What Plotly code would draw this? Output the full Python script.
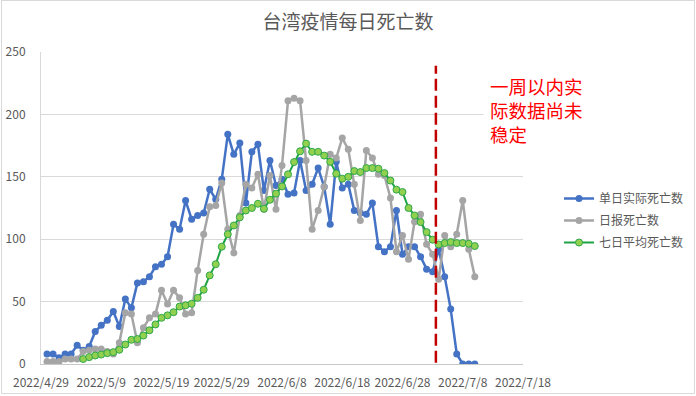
import pandas as pd
import plotly.graph_objects as go

dates = pd.date_range("2022-04-30", periods=72, freq="D")

actual = [8, 8, 5, 8, 8, 15, 11, 14, 26, 31, 35, 42, 30, 52, 45, 65, 66, 70, 78, 80,
          86, 112, 108, 131, 116, 119, 121, 140, 132, 148, 184, 168, 177, 129, 170, 176, 139, 163, 143, 148,
          136, 137, 163, 139, 144, 157, 142, 112, 162, 141, 144, 123, 121, 120, 129, 94, 90, 94, 123, 88,
          94, 94, 86, 76, 74, 92, 70, 44, 8, 0, 0, 0]

reported = [2, 2, 2, 4, 4, 4, 10, 11, 12, 12, 10, 8, 17, 41, 40, 17, 29, 37, 40, 59,
            48, 59, 53, 40, 41, 75, 104, 126, 127, 145, 108, 89, 119, 144, 141, 152, 124, 151, 124, 159,
            211, 213, 211, 163, 108, 123, 142, 168, 165, 181, 172, 144, 115, 171, 165, 152, 151, 133, 90, 103,
            84, 114, 120, 96, 88, 68, 103, 94, 104, 131, 92, 70]

avg7 = [None, None, None, None, None, None, 4, 5.5, 6.8, 7.6, 8.7, 9.5, 11.4, 15.6, 19.4, 20, 22.8, 27, 31.7, 37,
        39, 41.5, 46, 47, 48.3, 53, 59.5, 71, 80, 94, 104, 111, 117.5, 123, 125, 128.4, 124.4, 131.6, 136.5, 142.3,
        152, 161.8, 170.4, 176.6, 170, 170, 167, 162, 152.5, 148.5, 150, 154.6, 153.8, 157, 157, 156.5, 153, 147, 139.7, 137.8,
        125, 119, 113.7, 105.7, 99.6, 95.8, 96.9, 97.7, 96.9, 96.9, 96.4, 94.5]

tick_dates = pd.date_range("2022-04-29", "2022-07-18", freq="10D")
tick_text = [f"{d.year}/{d.month}/{d.day}" for d in tick_dates]

series_names = ["单日实际死亡数", "日报死亡数", "七日平均死亡数"]
title_text = "台湾疫情每日死亡数"
note_text = "一周以内实<br>际数据尚未<br>稳定"
cutoff_date = "2022-07-03 13:00"

FONT = "Noto Sans CJK SC, Microsoft YaHei, sans-serif"
L, R, T, B = 41, 173, 52, 32
W, H = 696, 396
PW, PH = W - L - R, H - T - B

fig = go.Figure()
fig.add_trace(go.Scatter(x=dates, y=actual, name=series_names[0], mode="lines+markers",
                         legendgroup="a",
                         line=dict(color="#4472C4", width=2.5),
                         marker=dict(color="#4472C4", size=7)))
fig.add_trace(go.Scatter(x=dates, y=reported, name=series_names[1], mode="lines+markers",
                         legendgroup="b",
                         line=dict(color="#A5A5A5", width=2.5),
                         marker=dict(color="#A5A5A5", size=7)))
fig.add_trace(go.Scatter(x=dates, y=avg7, name=series_names[2], mode="lines+markers",
                         legendgroup="c",
                         line=dict(color="#1EA345", width=2),
                         marker=dict(color="#92D050", size=7, line=dict(color="#2EA84A", width=1))))

fig.add_shape(type="line", xref="x", yref="y", x0=cutoff_date, x1=cutoff_date, y0=1, y1=239,
              line=dict(color="#C00000", width=2.5, dash="12px,5px"), layer="above")

# chart border
fig.add_shape(type="rect", xref="paper", yref="paper",
              x0=(1.5 - L) / PW, x1=(694.5 - L) / PW,
              y0=(H - B - 393.5) / PH, y1=(H - B - 0.5) / PH,
              line=dict(color="#D9D9D9", width=1), fillcolor="rgba(0,0,0,0)", layer="below")

fig.add_annotation(xref="paper", yref="paper", x=(483 - L) / PW, y=1 - (66 - T) / PH,
                   xanchor="left", yanchor="top", text=note_text, showarrow=False, align="left",
                   font=dict(family=FONT, size=18.5, color="#FF0000"),
                   bgcolor="white", borderpad=6)

fig.update_layout(
    width=W, height=H,
    margin=dict(l=L, r=R, t=T, b=B, autoexpand=False),
    paper_bgcolor="white", plot_bgcolor="white",
    font=dict(family=FONT, size=12, color="#595959"),
    title=dict(text=title_text, x=0.5, xref="container", xanchor="center",
               y=1 - 22 / H, yref="container", yanchor="middle",
               font=dict(family=FONT, size=19, color="#595959")),
    showlegend=True,
    legend=dict(x=(559 - L) / PW, xanchor="left", y=1 - (184 - T) / PH, yanchor="top",
                font=dict(family=FONT, size=12, color="#595959"),
                bgcolor="rgba(0,0,0,0)", itemwidth=30, tracegroupgap=3),
    xaxis=dict(type="date", range=["2022-04-29", "2022-07-18"],
               tickvals=tick_dates, ticktext=tick_text, tickangle=0,
               showgrid=False, showline=True, linecolor="#C8C8C8", linewidth=1,
               ticks="", ticklabelstandoff=8, tickfont=dict(size=12, color="#595959"),
               zeroline=False),
    yaxis=dict(range=[0, 250], dtick=50, showgrid=True, gridcolor="#D9D9D9", gridwidth=1,
               showline=True, linecolor="#D9D9D9", ticks="", ticklabelstandoff=12,
               tickfont=dict(size=12, color="#595959"), zeroline=False),
)

fig.write_html("out.html", config={"displayModeBar": False},
               post_script="document.body.style.margin='0';document.body.style.padding='0';")
